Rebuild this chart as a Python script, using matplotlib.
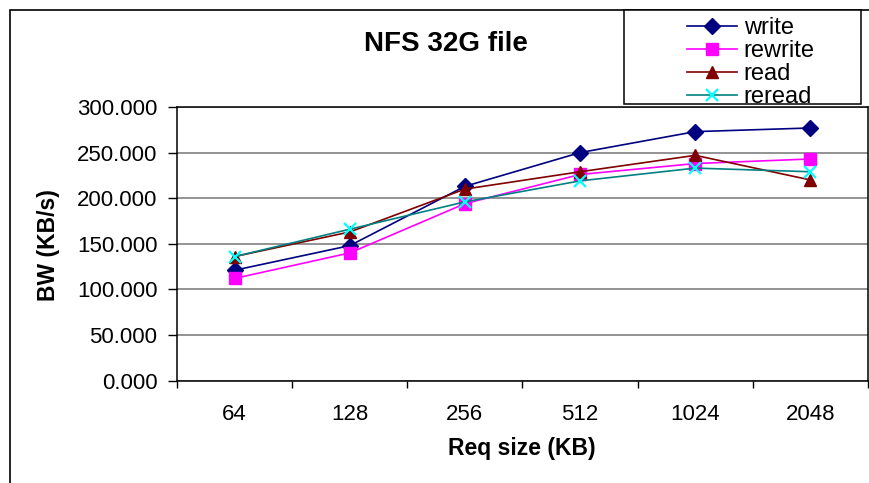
import matplotlib.pyplot as plt
from matplotlib.patches import Rectangle
from matplotlib.ticker import FixedLocator, FuncFormatter

sizes = ["64", "128", "256", "512", "1024", "2048"]
write = [121, 148, 213, 250, 273, 277]
rewrite = [112, 140, 194, 226, 238, 243]
read = [136, 163, 210, 229, 247, 220]
reread = [136, 166, 196, 219, 233, 229]

plt.rcParams["font.family"] = ["Liberation Sans", "DejaVu Sans"]

W, H = 870, 483
fig = plt.figure(figsize=(W / 100, H / 100), dpi=100)

# outer chart frame
fig.patches.append(Rectangle((10 / W, -0.1), 1.1, 1 - 10 / H + 0.1, transform=fig.transFigure,
                             fill=False, edgecolor="black", linewidth=1.2))

left, right, top, bottom = 177, 868, 107, 380.6
ax = fig.add_axes([left / W, 1 - bottom / H, (right - left) / W, (bottom - top) / H])

x = list(range(len(sizes)))
ax.plot(x, write, color="#000080", marker="D", ms=8, lw=1.2, label="write")
ax.plot(x, rewrite, color="#FF00FF", marker="s", ms=8, lw=1.2, label="rewrite")
ax.plot(x, read, color="#800000", marker="^", ms=9, lw=1.2, label="read")
ax.plot(x, reread, color="#008080", marker="x", ms=9, mew=1.6, mec="#00FFFF", lw=1.2, label="reread")

ax.set_xlim(-0.5, len(sizes) - 0.5)
ax.set_ylim(0, 300)
ax.set_yticks(range(0, 301, 50))
ax.yaxis.set_major_formatter(FuncFormatter(lambda v, p: f"{v:.3f}"))
ax.set_xticks(x)
ax.set_xticklabels(sizes)
ax.xaxis.set_minor_locator(FixedLocator([i - 0.5 for i in range(len(sizes) + 1)]))
ax.tick_params(axis="x", which="major", length=0, pad=17, labelsize=16)
ax.tick_params(axis="x", which="minor", length=5, direction="out", width=1)
ax.tick_params(axis="y", length=6.5, direction="out", width=1, pad=7.5, labelsize=16)

ax.grid(axis="y", color="#808080", linewidth=1.2)
ax.set_axisbelow(True)
for s in ax.spines.values():
    s.set_color("black")
    s.set_linewidth(1.1)

fig.text(522 / W, 1 - 449 / H, "Req size (KB)", fontsize=16.5, fontweight="bold", ha="center", va="center")
fig.text(49 / W, 1 - 245 / H, "BW (KB/s)", fontsize=16.5, fontweight="bold", rotation=90,
         ha="center", va="center")
fig.text(446 / W, 1 - 44 / H, "NFS 32G file", fontsize=20, fontweight="bold", ha="center", va="center")

# legend box
fig.patches.append(Rectangle((624 / W, 1 - 104 / H), (861 - 624) / W, (104 - 9.5) / H,
                             transform=fig.transFigure, facecolor="white", edgecolor="black",
                             linewidth=1.1, zorder=5))
leg = fig.legend(loc="upper left", bbox_to_anchor=(687 / W, 1 - 17.5 / H), frameon=False,
                 fontsize=17, borderpad=0, labelspacing=0.04, handlelength=2.1,
                 handletextpad=0.3, borderaxespad=0)
leg.set_zorder(6)

fig.savefig("out.png", dpi=100)
